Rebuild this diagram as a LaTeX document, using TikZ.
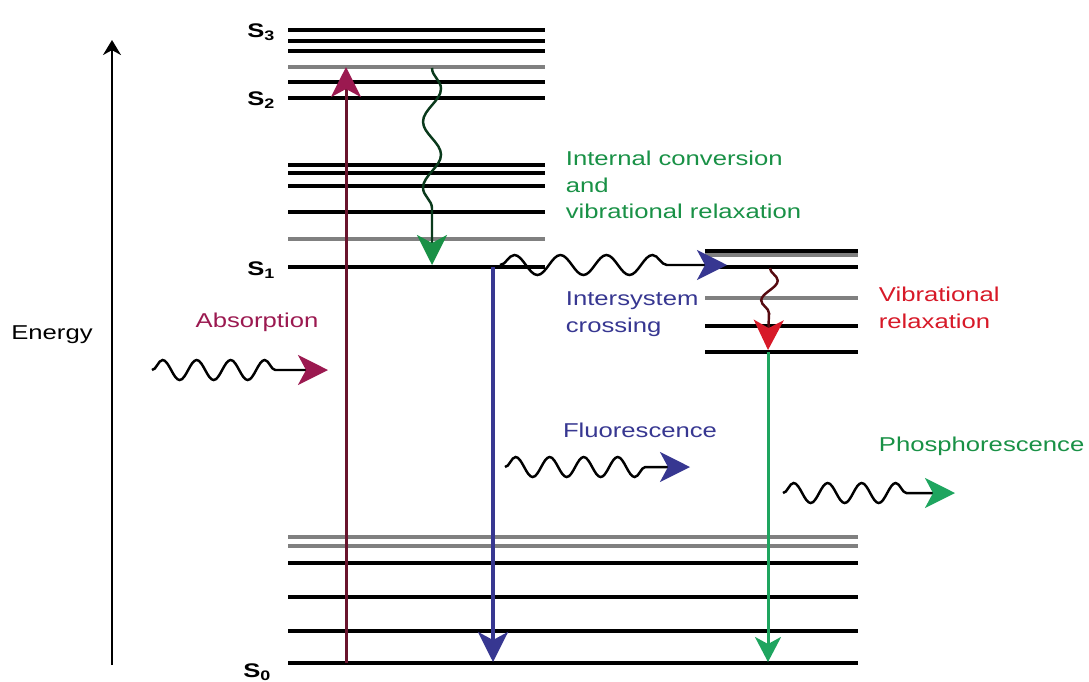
\documentclass[tikz,border=0pt]{standalone}
\usepackage{fontspec}
\setmainfont{Liberation Sans}
\usetikzlibrary{arrows.meta,decorations.pathmorphing}
\definecolor{absorb}{RGB}{155,25,80}
\definecolor{absline}{RGB}{105,20,45}
\definecolor{icgreen}{RGB}{25,145,70}
\definecolor{fluor}{RGB}{55,55,145}
\definecolor{vrred}{RGB}{215,25,40}
\definecolor{phos}{RGB}{30,165,95}
\begin{document}
\begin{tikzpicture}[x=0.01cm, y=-0.01cm,
  lvl/.style={line width=0.95pt},
  lvlgray/.style={line width=1.3pt, black!50},
  lvlthick/.style={line width=1.4pt},
  lbl/.style={font=\fontsize{5.7}{7.6}\selectfont, xscale=1.28, align=left, inner sep=0pt},
  state/.style={font=\bfseries\fontsize{5.6}{6}\selectfont, xscale=1.3, inner sep=0pt},
  wave/.style={decorate, decoration={snake, amplitude=0.1cm, segment length=0.34cm, post length=0.4cm}},
  tipcol/.style={-{Stealth[length=0.3cm, width=0.3cm, inset=0.08cm, color=#1]}}]
\useasboundingbox (0,0) rectangle (1089,681);
\foreach \y in {30,41,51,82,165,173,186,212,267} \draw[lvl] (288,\y) -- (545,\y);
\foreach \y in {67,239} \draw[lvlgray] (288,\y) -- (545,\y);
\draw[lvlthick] (288,98) -- (545,98);
\foreach \y in {251,267,326} \draw[lvl] (705,\y) -- (858,\y);
\foreach \y in {255,298} \draw[lvlgray] (705,\y) -- (858,\y);
\draw[lvlthick] (705,352) -- (858,352);
\foreach \y in {563,597,631} \draw[lvl] (288,\y) -- (858,\y);
\foreach \y in {537,546} \draw[lvlgray] (288,\y) -- (858,\y);
\draw[lvlthick] (288,663) -- (858,663);
\node[state] (s3) at (262,32) {S\textsubscript{3}};
\node[state] (s2) at (262,100) {S\textsubscript{2}};
\node[state] (s1) at (262,270) {S\textsubscript{1}};
\node[state] (s0) at (258,672) {S\textsubscript{0}};
\node[lbl] (energy) at (52,335) {Energy};
\node[lbl, absorb] (abstxt) at (257,322) {Absorption};
\node[lbl, icgreen, anchor=west] (ictxt) at (565,185) {Internal conversion\\and\\vibrational relaxation};
\node[lbl, fluor, anchor=west] (isctxt) at (565,314) {Intersystem\\crossing};
\node[lbl, vrred, anchor=west] (vrtxt) at (878,308) {Vibrational\\relaxation};
\node[lbl, fluor] (fltxt) at (640,430) {Fluorescence};
\node[lbl, icgreen, anchor=west] (phtxt) at (878,446) {Phosphorescence};
\coordinate (e0) at (112,665);
\coordinate (e1) at (112,40);
\coordinate (a0) at (346,663);
\coordinate (a1) at (346,67);
\coordinate (ic0) at (432,68);
\coordinate (ic1) at (432,265);
\coordinate (isc0) at (500,265);
\coordinate (isc1) at (727,265);
\coordinate (vr0) at (770,268);
\coordinate (vr1) at (768,350);
\coordinate (f0) at (493,267);
\coordinate (f1) at (493,662);
\coordinate (p0) at (768,352);
\coordinate (p1) at (768,662);
\coordinate (ha0) at (152,370);
\coordinate (ha1) at (328,370);
\coordinate (hf0) at (505,467);
\coordinate (hf1) at (690,467);
\coordinate (hp0) at (783,493);
\coordinate (hp1) at (955,493);
\draw[line width=0.6pt, -{Stealth[length=0.15cm, width=0.18cm]}] (e0) -- (e1);
\draw[absline, line width=0.85pt, tipcol=absorb] (a0) -- (a1);
\draw[fluor, line width=1pt, tipcol=fluor] (f0) -- (f1);
\draw[phos, line width=0.85pt, -{Stealth[length=0.25cm, width=0.26cm, inset=0.07cm]}] (p0) -- (p1);
\draw[black!60!icgreen, line width=0.7pt, wave, decoration={segment length=0.66cm, amplitude=0.09cm}, tipcol=icgreen] (ic0) -- (ic1);
\draw[line width=0.7pt, wave, decoration={segment length=0.46cm, amplitude=0.1cm, post length=0.6cm}, tipcol=fluor] (isc0) -- (isc1);
\draw[black!60!vrred, line width=0.7pt, wave, decoration={segment length=0.4cm, amplitude=0.08cm, post length=0.32cm}, tipcol=vrred] (vr0) -- (vr1);
\draw[line width=0.7pt, wave, tipcol=absorb] (ha0) -- (ha1);
\draw[line width=0.7pt, wave, tipcol=fluor] (hf0) -- (hf1);
\draw[line width=0.7pt, wave, tipcol=phos] (hp0) -- (hp1);
\end{tikzpicture}
\end{document}
